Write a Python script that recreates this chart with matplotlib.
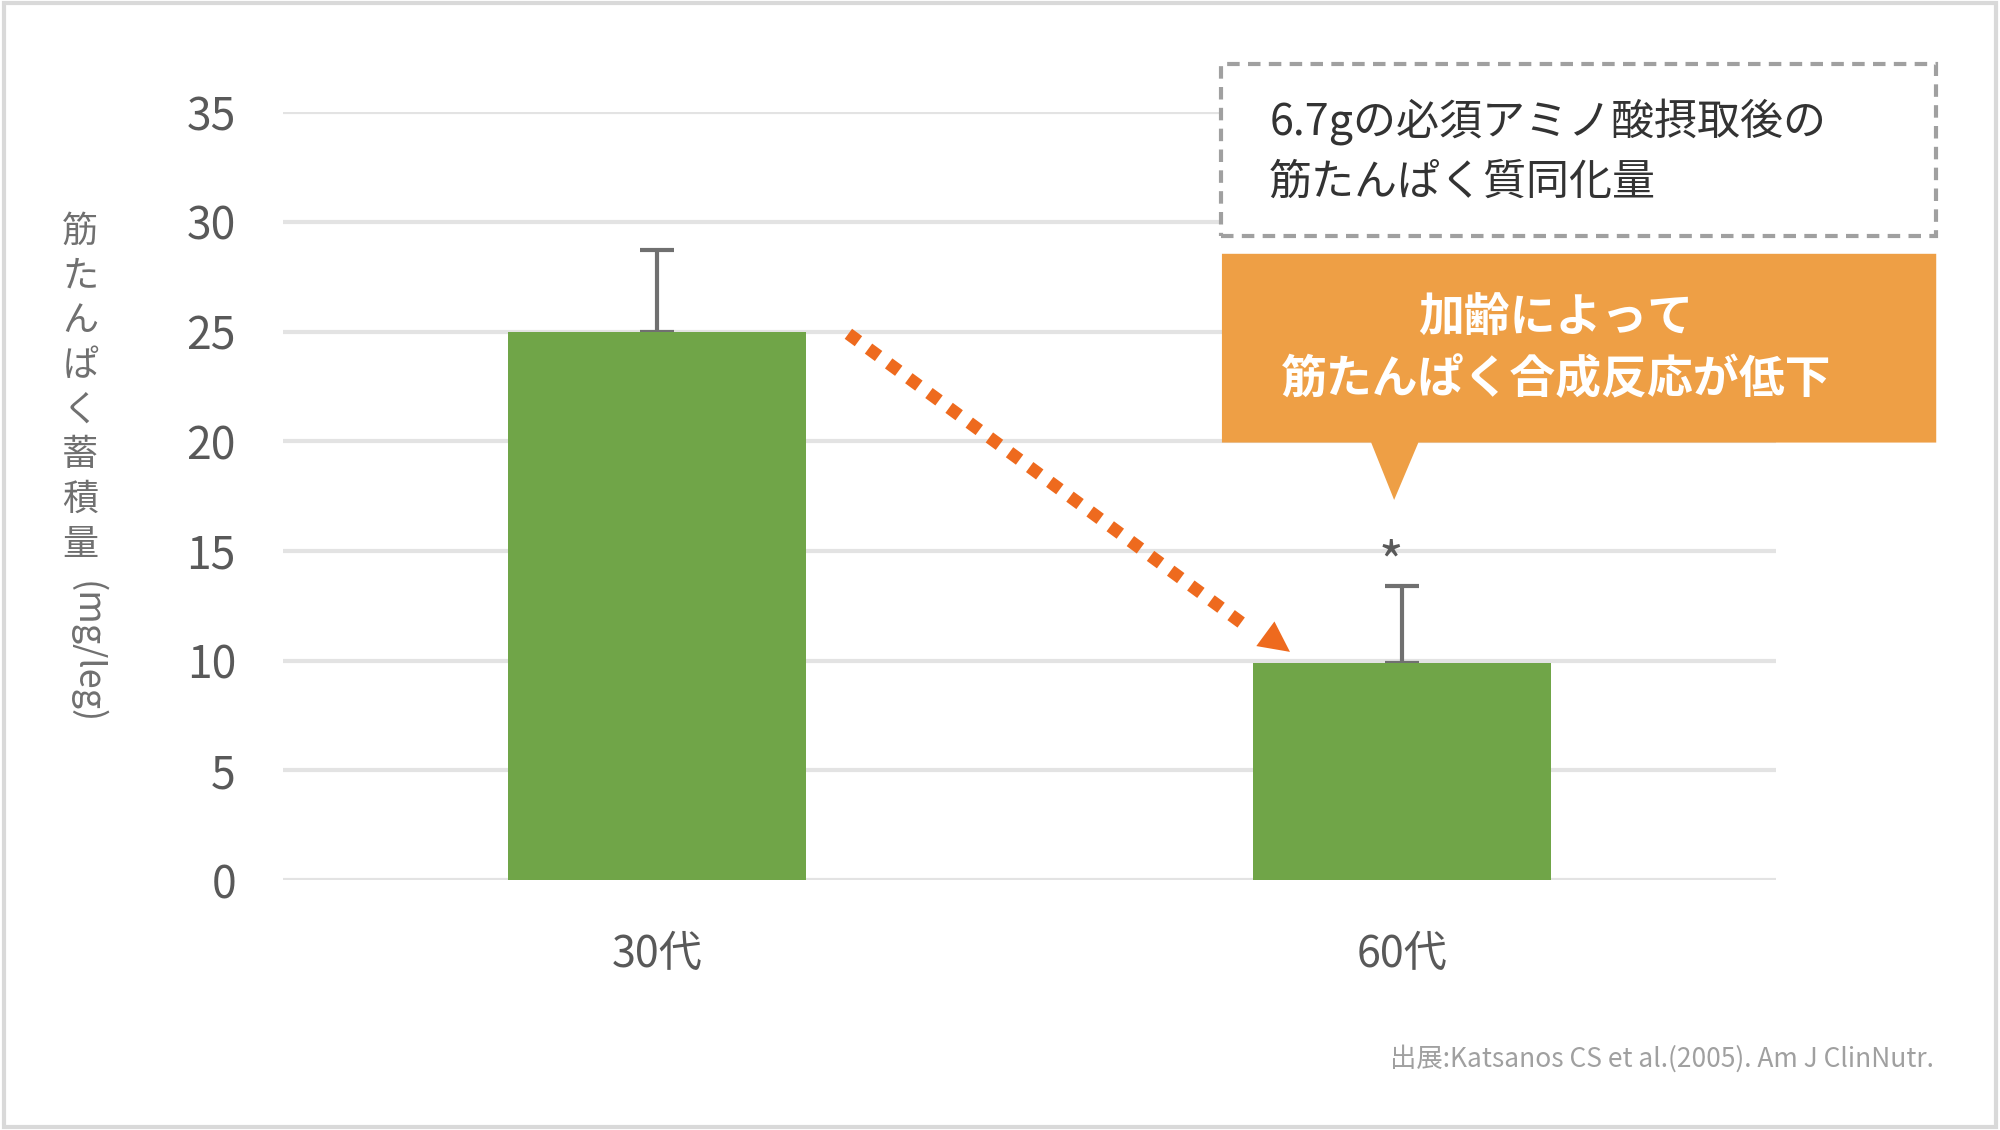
import matplotlib
matplotlib.use("Agg")
import matplotlib.pyplot as plt
from matplotlib.patches import Polygon, Rectangle

plt.rcParams['font.family'] = ['Noto Sans CJK JP', 'DejaVu Sans']

categories = ['30代', '60代']
values = [25.0, 9.9]
errors = [3.7, 3.5]
yticks = [0, 5, 10, 15, 20, 25, 30, 35]

W, H = 1568, 886
def P(x, y):
    return (x / W, 1 - y / H)

fig = plt.figure(figsize=(20, 11.3), dpi=100)
fig.patches.append(Rectangle((0.002, 0.003), 0.996, 0.994, transform=fig.transFigure,
                             fill=False, ec='#d9d9d9', lw=3))
ax = fig.add_axes([222 / W, 1 - 690 / H, (1392 - 222) / W, (690 - 88) / H])
x = range(len(categories))
ax.bar(x, values, width=0.4, color='#70a548', zorder=3)
ax.errorbar(x, values, yerr=[[0, 0], errors], fmt='none', ecolor='#707070',
            elinewidth=3, capsize=12, capthick=3, zorder=2)
ax.set_xlim(-0.502, 1.502)
ax.set_ylim(0, 35)
ax.set_yticks(yticks)
ax.set_yticklabels([str(t) for t in yticks])
ax.set_xticks(list(x))
ax.set_xticklabels(categories)
ax.tick_params(axis='y', length=0, labelsize=32, labelcolor='#595959', pad=34)
ax.tick_params(axis='x', length=0, labelsize=31, labelcolor='#595959', pad=38)
ax.grid(axis='y', color='#e3e3e3', lw=3, zorder=0)
for s in ax.spines.values():
    s.set_visible(False)

# y label
for i, ch in enumerate('筋たんぱく蓄積量'):
    fig.text(*P(63, 182 + i * 35), ch, fontsize=26, color='#707070', ha='center', va='center')
fig.text(*P(68, 512), '(mg/leg)', fontsize=26, color='#707070', ha='center', va='center', rotation=-90)

# arrow: dotted shaft + solid head
start = (0.257, 24.9)
neck = (0.79, 11.6)
tip = (0.85, 10.4)
ax.plot([start[0], neck[0]], [start[1], neck[1]], color='#ee6a1e', lw=9,
        ls=(0, (1, 1)), dash_capstyle='butt', zorder=5)
ax.annotate('', xy=tip, xytext=(0.75, 12.9),
            arrowprops=dict(arrowstyle='-|>,head_length=2.2,head_width=1.1', lw=0,
                            color='#ee6a1e', shrinkA=0, shrinkB=0), zorder=5)
ax.text(0.985, 14.3, '*', fontsize=38, color='#595959', ha='center', va='center')

# dashed box
x0, y0 = P(957, 185); x1, y1 = P(1518, 50)
fig.patches.append(Rectangle((x0, y0), x1 - x0, y1 - y0, transform=fig.transFigure,
                             fc='white', ec='#a0a0a0', lw=3, ls=(0, (3, 2)), zorder=5))
fig.text(*P(995, 95), '6.7gの必須アミノ酸摂取後の', fontsize=31, color='#333333', va='center', zorder=6)
fig.text(*P(995, 143), '筋たんぱく質同化量', fontsize=31, color='#333333', va='center', zorder=6)

# callout
pts = [P(958, 199), P(1518, 199), P(1518, 347), P(1112, 347), P(1093, 392), P(1075, 347), P(958, 347)]
fig.patches.append(Polygon(pts, closed=True, transform=fig.transFigure, fc='#ee9f45', ec='none', zorder=5))
fig.text(*P(1220, 250), '加齢によって', fontsize=33, color='white', weight='bold', ha='center', va='center', zorder=6)
fig.text(*P(1220, 298), '筋たんぱく合成反応が低下', fontsize=33, color='white', weight='bold', ha='center', va='center', zorder=6)

fig.text(*P(1516, 830), '出展:Katsanos CS et al.(2005). Am J ClinNutr.', fontsize=19,
         color='#a0a0a0', ha='right', va='center')

fig.savefig('out.png', dpi=100, facecolor='white')
